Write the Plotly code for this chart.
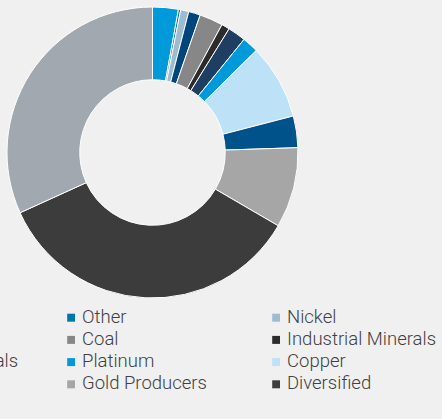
import plotly.graph_objects as go

# Sector weights (%), listed clockwise from 12 o'clock; legend reads row by row
sectors = [
    "Silver", "Other", "Nickel",
    "Zinc", "Coal", "Industrial Minerals",
    "Precious Metals", "Platinum", "Copper",
    "Aluminium", "Gold Producers", "Diversified",
    "Iron Ore",
]
weights = [2.85, 0.25, 0.9, 1.3, 2.6, 0.9, 2.0, 1.8, 8.3, 3.5, 8.9, 34.7, 31.7]
colors = [
    "#009ADB", "#0076AE", "#9EBBCF",
    "#00467C", "#878787", "#2B2B2B",
    "#1F3E62", "#009ADB", "#BDE2F7",
    "#00528A", "#A6A6A6", "#3C3C3C",
    "#A1A8B0",
]
# Legend entries of the first column that fall entirely outside the page
offpage = {"Silver", "Zinc", "Aluminium", "Iron Ore"}

W, H = 442, 419
BG = "#F0F0F0"


def px_x(x):
    return x / W


def px_y(y):
    return 1 - y / H


fig = go.Figure(
    go.Pie(
        labels=sectors,
        values=weights,
        hole=0.5,
        sort=False,
        direction="clockwise",
        rotation=0,
        textinfo="none",
        hoverinfo="label+percent",
        marker=dict(colors=colors, line=dict(color="#FFFFFF", width=1)),
        domain=dict(x=[px_x(7), px_x(298)], y=[px_y(298), px_y(7)]),
        showlegend=False,
    )
)

# Legend drawn as a 3-column grid, row-major, first column running off the left edge
col_text_x = [-112.0, 82.7, 287.7]
row_y0, row_step = 316.7, 22.2
shapes, annotations = [], []
for i, (name, col) in enumerate(zip(sectors, colors)):
    if name in offpage:
        continue
    r, c = divmod(i, 3)
    tx = col_text_x[c]
    ty = row_y0 + r * row_step
    shapes.append(dict(
        type="rect", xref="paper", yref="paper",
        x0=px_x(tx - 15.5), x1=px_x(tx - 7.7),
        y0=px_y(ty + 5), y1=px_y(ty - 3),
        fillcolor=col, line=dict(width=0),
    ))
    annotations.append(dict(
        text=name, xref="paper", yref="paper",
        x=px_x(tx - 2.3), y=px_y(ty), xanchor="left", yanchor="middle",
        showarrow=False,
        font=dict(family="Roboto", size=18.5, weight=300, color="#404040"),
    ))

fig.update_layout(
    width=W, height=H,
    margin=dict(l=0, r=0, t=0, b=0, autoexpand=False),
    paper_bgcolor=BG, plot_bgcolor=BG,
    showlegend=False,
    shapes=shapes,
    annotations=annotations,
)

fig.write_html("out.html")
